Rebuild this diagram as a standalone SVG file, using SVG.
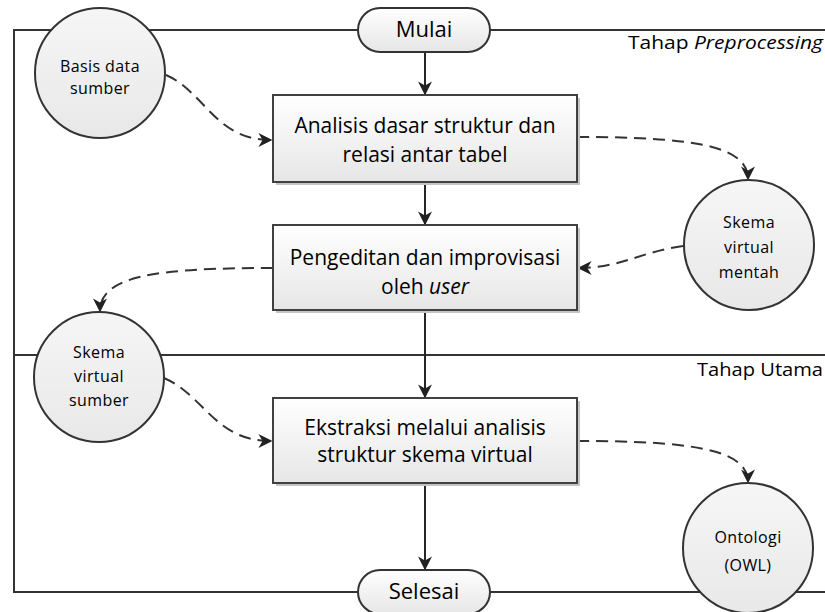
<svg xmlns="http://www.w3.org/2000/svg" width="825" height="612" viewBox="0 0 825 612">
<style>
.frame{fill:none;stroke:#333;stroke-width:2}
.flow{fill:none;stroke:#262626;stroke-width:2}
.dash{fill:none;stroke:#333;stroke-width:2;stroke-dasharray:12,7}
.box{fill:url(#boxg);stroke:#404040;stroke-width:2}
.shadow{fill:#c4c4c4}
.circ{fill:url(#circg);stroke:#333;stroke-width:2}
.term{fill:url(#boxg);stroke:#333;stroke-width:2}
.t{font-family:"Open Sans","Liberation Sans",sans-serif;fill:#000;text-anchor:middle}
.bt{font-size:21px}
.tt{font-size:22px}
.ct{font-size:16px;letter-spacing:0.4px}
.lab{font-family:"Open Sans","Liberation Sans",sans-serif;fill:#000;font-size:19px;text-anchor:end}
</style>
<defs>
<linearGradient id="boxg" x1="0" y1="0" x2="0" y2="1"><stop offset="0" stop-color="#ffffff"/><stop offset="1" stop-color="#e6e6e6"/></linearGradient>
<linearGradient id="circg" x1="0" y1="0" x2="0" y2="1"><stop offset="0" stop-color="#f6f6f6"/><stop offset="1" stop-color="#e8e8e8"/></linearGradient>
<marker id="arrd" viewBox="0 0 10 10" refX="9" refY="5" markerWidth="14" markerHeight="14" orient="auto" markerUnits="userSpaceOnUse">
<path d="M0,0 L10,5 L0,10 L3,5 Z" fill="#222"/>
</marker>
</defs>

<g id="frame">
<path class="frame" d="M825,30 H14 V592 H825"/>
<line class="frame" x1="14" y1="355" x2="825" y2="355"/>
<text class="lab" x="823" y="49" textLength="195" lengthAdjust="spacingAndGlyphs"><tspan>Tahap </tspan><tspan font-style="italic">Preprocessing</tspan></text>
<text class="lab" x="823" y="376" textLength="126" lengthAdjust="spacingAndGlyphs">Tahap Utama</text>
</g>

<g id="connectors">
<line class="flow" x1="425" y1="52" x2="425" y2="94" marker-end="url(#arrd)"/>
<line class="flow" x1="425" y1="182" x2="425" y2="224" marker-end="url(#arrd)"/>
<line class="flow" x1="425" y1="310" x2="425" y2="397" marker-end="url(#arrd)"/>
<line class="flow" x1="425" y1="483" x2="425" y2="569" marker-end="url(#arrd)"/>
<path class="dash" d="M166,75 C205,92 215,140 271,140" marker-end="url(#arrd)"/>
<path class="dash" d="M577,137 C690,137 748,145 748,179" marker-end="url(#arrd)"/>
<path class="dash" d="M683,246 C640,252 620,268 579,268" marker-end="url(#arrd)"/>
<path class="dash" d="M273,268 C160,268 100,275 100,311" marker-end="url(#arrd)"/>
<path class="dash" d="M164,378 C205,396 215,441 271,441" marker-end="url(#arrd)"/>
<path class="dash" d="M577,441 C690,441 748,449 748,482" marker-end="url(#arrd)"/>
</g>

<g id="mulai">
<rect class="term" x="358" y="8" width="132" height="44" rx="22"/>
<text class="t tt" x="424" y="37">Mulai</text>
</g>

<g id="selesai">
<rect class="term" x="358" y="570" width="132" height="44" rx="22"/>
<text class="t tt" x="424" y="599">Selesai</text>
</g>

<g id="box1">
<rect class="shadow" x="276" y="98" width="304" height="87"/>
<rect class="box" x="273" y="95" width="304" height="87"/>
<text class="t bt" x="425" y="133">Analisis dasar struktur dan</text>
<text class="t bt" x="425" y="162">relasi antar tabel</text>
</g>

<g id="box2">
<rect class="shadow" x="276" y="228" width="304" height="85"/>
<rect class="box" x="273" y="225" width="304" height="85"/>
<text class="t bt" x="425" y="265" font-size="20">Pengeditan dan improvisasi</text>
<text class="t bt" x="425" y="294" font-size="20">oleh <tspan font-style="italic">user</tspan></text>
</g>

<g id="box3">
<rect class="shadow" x="276" y="401" width="304" height="85"/>
<rect class="box" x="273" y="398" width="304" height="85"/>
<text class="t bt" x="425" y="435">Ekstraksi melalui analisis</text>
<text class="t bt" x="425" y="462">struktur skema virtual</text>
</g>

<g id="basis">
<circle class="circ" cx="100" cy="73" r="65"/>
<text class="t ct" x="100" y="72">Basis data</text>
<text class="t ct" x="100" y="94">sumber</text>
</g>

<g id="mentah">
<circle class="circ" cx="749" cy="245" r="65"/>
<text class="t ct" x="749" y="228">Skema</text>
<text class="t ct" x="749" y="253">virtual</text>
<text class="t ct" x="749" y="278">mentah</text>
</g>

<g id="sumber">
<circle class="circ" cx="99" cy="377" r="65"/>
<text class="t ct" x="99" y="358">Skema</text>
<text class="t ct" x="99" y="382">virtual</text>
<text class="t ct" x="99" y="406">sumber</text>
</g>

<g id="ontologi">
<circle class="circ" cx="748" cy="548" r="65"/>
<text class="t ct" x="748" y="543">Ontologi</text>
<text class="t ct" x="748" y="571">(OWL)</text>
</g>
</svg>
